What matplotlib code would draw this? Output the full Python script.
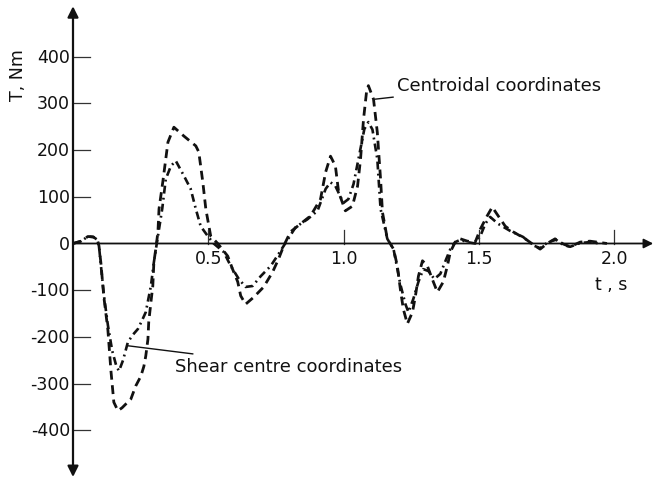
import matplotlib
matplotlib.use("Agg")
import matplotlib.pyplot as plt

# Centroidal coordinates (dashed)
t_cent = [0.0, 0.03, 0.055, 0.075, 0.09, 0.096, 0.103, 0.114, 0.129, 0.140, 0.151, 0.166, 0.181,
          0.214, 0.232, 0.251, 0.262, 0.269, 0.277, 0.280, 0.288, 0.295, 0.299, 0.306, 0.314,
          0.318, 0.332, 0.351, 0.373, 0.410, 0.454, 0.465, 0.480, 0.491, 0.509, 0.535,
          0.572, 0.590, 0.609, 0.620, 0.638, 0.668, 0.705, 0.738, 0.760, 0.779, 0.804, 0.841,
          0.878, 0.915, 0.934, 0.952, 0.970, 0.982, 1.007, 1.033, 1.052, 1.063, 1.074, 1.085,
          1.092, 1.111, 1.125, 1.137, 1.144, 1.162, 1.185, 1.199, 1.210, 1.221, 1.236, 1.255,
          1.266, 1.277, 1.292, 1.310, 1.328, 1.347, 1.369, 1.384, 1.395, 1.413, 1.432, 1.458,
          1.487, 1.506, 1.531, 1.550, 1.572, 1.598, 1.627, 1.672, 1.708, 1.727, 1.753, 1.782,
          1.812, 1.838, 1.875, 1.911, 1.937, 1.974]
T_cent = [0, 5, 15, 14, 8, -5, -41, -114, -185, -271, -340, -358, -352,
          -333, -305, -284, -263, -241, -205, -168, -126, -91, -40, -12, 25,
          74, 132, 217, 249, 230, 209, 196, 131, 74, 16, 0,
          -27, -55, -82, -112, -130, -115, -93, -61, -33, -5, 25, 42,
          59, 95, 153, 187, 166, 110, 70, 80, 123, 181, 266, 324,
          338, 309, 238, 138, 67, 10, -12, -48, -97, -140, -172, -147,
          -112, -70, -37, -48, -76, -104, -82, -48, -18, 3, 10, 5,
          3, 31, 59, 78, 59, 37, 25, 10, -5, -12, 0, 10,
          -1, -7, 3, 5, 3, 0]

# Shear centre coordinates (dash-dot)
t_shear = [0.0, 0.03, 0.055, 0.075, 0.09, 0.096, 0.102, 0.114, 0.129, 0.145, 0.160, 0.170, 0.185,
           0.203, 0.222, 0.240, 0.255, 0.269, 0.288, 0.299, 0.314, 0.330, 0.343, 0.362, 0.380,
           0.410, 0.435, 0.454, 0.472, 0.498, 0.520,
           0.557, 0.583, 0.613, 0.638, 0.664, 0.694, 0.731, 0.756, 0.779, 0.823, 0.867, 0.904,
           0.934, 0.952, 0.970, 0.989, 1.000, 1.018, 1.037, 1.055, 1.077, 1.092, 1.107, 1.125,
           1.137, 1.162, 1.185, 1.210, 1.229, 1.240, 1.258, 1.277, 1.295, 1.314, 1.336, 1.358,
           1.380, 1.395, 1.413, 1.432, 1.458, 1.487, 1.506, 1.524, 1.542, 1.572, 1.616, 1.664,
           1.701, 1.727, 1.756, 1.786, 1.812, 1.838, 1.875, 1.911, 1.948]
T_shear = [0, 5, 15, 14, 8, -5, -40, -110, -175, -230, -262, -273, -250,
           -211, -195, -183, -165, -147, -91, -40, 16, 75, 138, 166, 177,
           145, 117, 74, 37, 16, 0,
           -18, -48, -76, -93, -91, -70, -48, -26, -5, 35, 52, 70,
           117, 131, 123, 100, 87, 95, 127, 180, 245, 260, 244, 181,
           74, 10, -12, -87, -130, -147, -119, -82, -55, -59, -76, -65,
           -33, -12, 3, 8, 3, 0, 16, 42, 57, 42, 27, 14,
           -4, -10, 3, 8, -3, -7, 1, 3, 0]

y_ticks = [-400, -300, -200, -100, 0, 100, 200, 300, 400]
y_ticklabels = ["-400", "-300", "-200", "-100", "0", "100", "200", "300", "400"]
x_ticks = [0.5, 1.0, 1.5, 2.0]
x_ticklabels = ["0.5", "1.0", "1.5", "2.0"]

W, H = 654, 481
fig = plt.figure(figsize=(W / 100, H / 100), dpi=100)
ax = fig.add_axes([0, 0, 1, 1])

px0, pxs = 73.0, 270.5      # x pixel of t=0, pixels per second
py0, pys = 244.5, 0.467     # y pixel of T=0, pixels per Nm
ax.set_xlim(-px0 / pxs, (W - px0) / pxs)
ax.set_ylim((py0 - H) / pys, py0 / pys)

ink = "#111111"
ax.plot(t_cent, T_cent, color=ink, lw=2.0, dashes=(3.2, 2.0))
ax.plot(t_shear, T_shear, color=ink, lw=1.9, dashes=(3.0, 1.6, 0.7, 1.6))

for s in ["top", "right", "left", "bottom"]:
    ax.spines[s].set_visible(False)

# axes with arrows
ax.annotate("", xy=(0, 508), xytext=(0, -500),
            arrowprops=dict(arrowstyle="<|-|>", color=ink, lw=1.6, mutation_scale=16,
                            shrinkA=0, shrinkB=0))
ax.annotate("", xy=(2.145, 0), xytext=(0, 0),
            arrowprops=dict(arrowstyle="-|>", color=ink, lw=1.3, mutation_scale=14,
                            shrinkA=0, shrinkB=0))

fs_tick = 12.5
fs_text = 13
for v, lab in zip(y_ticks, y_ticklabels):
    if v != 0:
        ax.plot([0, 17 / pxs], [v, v], color="#333333", lw=0.9)
    ax.text(-3 / pxs, v, lab, ha="right", va="center", fontsize=fs_tick, color=ink)
for v, lab in zip(x_ticks, x_ticklabels):
    ax.plot([v, v], [0, 14 / pys], color="#333333", lw=0.9)
    ax.text(v, -15 / pys, lab, ha="center", va="center", fontsize=fs_tick, color=ink)

ax.set_xticks([])
ax.set_yticks([])

ax.text(-0.203, 363, "T, Nm", rotation=90, ha="center", va="center", fontsize=fs_tick, color=ink)
ax.text(1.989, -87, "t , s", ha="center", va="center", fontsize=fs_tick, color=ink)

ax.annotate("Centroidal coordinates", xy=(1.116, 309), xytext=(1.198, 339),
            ha="left", va="center", fontsize=fs_text, color=ink,
            arrowprops=dict(arrowstyle="-", color=ink, lw=1.0, shrinkA=1, shrinkB=0))
ax.annotate("Shear centre coordinates", xy=(0.203, -219), xytext=(0.377, -262),
            ha="left", va="center", fontsize=fs_text, color=ink,
            arrowprops=dict(arrowstyle="-", color=ink, lw=1.0, shrinkA=1, shrinkB=0))

fig.savefig("out.png", dpi=100)
